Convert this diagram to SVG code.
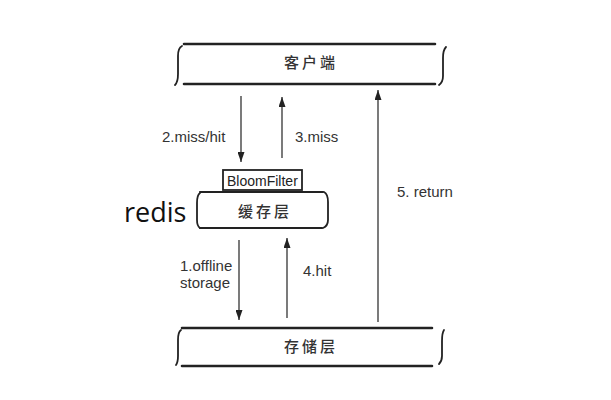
<svg xmlns="http://www.w3.org/2000/svg" width="611" height="400" viewBox="0 0 611 400">
<style>
.bar{stroke:#222;stroke-width:2.6;fill:none;stroke-linecap:round}
.br{stroke:#222;stroke-width:1.8;fill:none;stroke-linecap:round}
.ar{stroke:#333;stroke-width:1.3;fill:none}
.lbl{font-family:"Liberation Sans",Arial,sans-serif;font-size:15px;fill:#333}
.cn{font-family:"Noto Sans CJK SC","Noto Sans CJK JP",sans-serif;font-size:15px;font-weight:500;fill:#333;letter-spacing:3px}
</style>
<defs>
<marker id="ah" viewBox="0 0 10 7" refX="10" refY="3.5" markerWidth="10" markerHeight="7" markerUnits="userSpaceOnUse" orient="auto">
<path d="M0,0 L10,3.5 L0,7 z" fill="#222"/>
</marker>
</defs>
<rect width="611" height="400" fill="#fff"/>
<g id="client">
<path class="bar" d="M184,44 L435,44 M184,84 L435,84"/>
<path class="br" d="M182,46 Q178,48 178,56 L178,74 Q178,82 175,85"/>
<path class="br" d="M446,47 Q443,50 443,58 L443,76 Q443,82 439,85"/>
<text class="cn" x="284" y="68">客户端</text>
</g>
<g id="bloomfilter">
<rect x="223" y="170" width="79" height="20" fill="#fff" stroke="#222" stroke-width="1.8"/>
<text class="lbl" x="227" y="186" style="font-size:14px;fill:#222">BloomFilter</text>
</g>
<g id="cache">
<path class="bar" d="M200,192 L323,192 M200,228 L322,228" style="stroke-width:2.2"/>
<path class="br" d="M200,193 Q197,195 197,203 L197,220 Q197,226 200,228"/>
<path class="br" d="M324,192 Q328,194 328,202 L328,220 Q328,226 323,228"/>
<text class="cn" x="238" y="217">缓存层</text>
</g>
<g id="redis">
<text x="124" y="222" style="font-family:'Open Sans','Liberation Sans',sans-serif;font-size:27px;fill:#111">redis</text>
</g>
<g id="storage">
<path class="bar" d="M182,328 L432,328 M182,366 L432,366"/>
<path class="br" d="M181,330 Q178,332 178,340 L178,356 Q178,362 176,365"/>
<path class="br" d="M444,330 Q442,333 442,341 L442,356 Q442,361 439,364"/>
<text class="cn" x="284" y="352">存储层</text>
</g>
<g id="connectors">
<line class="ar" x1="241" y1="96" x2="241" y2="162" marker-end="url(#ah)"/>
<line class="ar" x1="282" y1="158" x2="282" y2="97" marker-end="url(#ah)"/>
<line class="ar" x1="378" y1="322" x2="378" y2="90" marker-end="url(#ah)"/>
<line class="ar" x1="239" y1="240" x2="239" y2="320" marker-end="url(#ah)"/>
<line class="ar" x1="287" y1="318" x2="287" y2="238" marker-end="url(#ah)"/>
<text class="lbl" x="162" y="142">2.miss/hit</text>
<text class="lbl" x="295" y="142">3.miss</text>
<text class="lbl" x="397" y="197">5. return</text>
<text class="lbl" x="180" y="271">1.offline</text>
<text class="lbl" x="180" y="288">storage</text>
<text class="lbl" x="303" y="276">4.hit</text>
</g>
</svg>
